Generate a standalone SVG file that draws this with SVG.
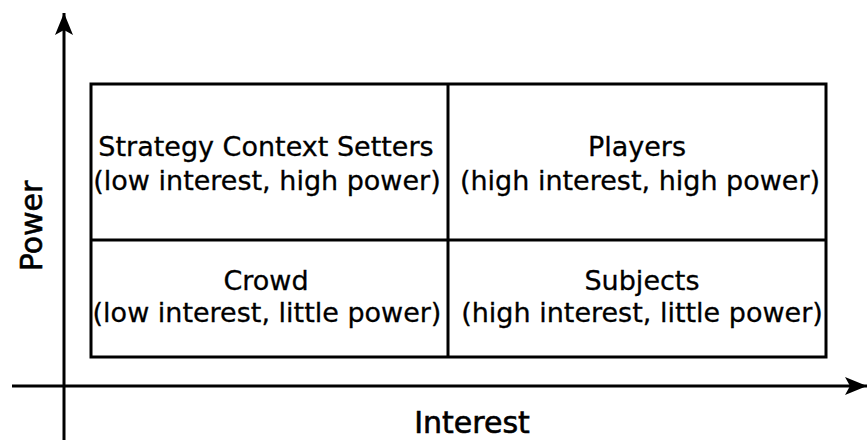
<svg xmlns="http://www.w3.org/2000/svg" width="867" height="446" viewBox="0 0 867 446">
<style>
.q{font-family:"DejaVu Sans","Noto Sans",sans-serif;font-size:27px;fill:#000;text-anchor:middle;stroke:#000;stroke-width:0.3}
.ax{font-family:"DejaVu Sans","Noto Sans",sans-serif;font-size:30px;fill:#000;text-anchor:middle;stroke:#000;stroke-width:0.6}
.ln{stroke:#000;stroke-width:3;fill:none}
</style>
<defs>
<marker id="ah" markerWidth="22" markerHeight="18" refX="22" refY="9" orient="auto" markerUnits="userSpaceOnUse" viewBox="0 0 22 18">
<path d="M0,0 L22,9 L0,18 L5,9 Z" fill="#000"/>
</marker>
</defs>
<rect width="867" height="446" fill="#fff"/>
<g id="connectors">
<line class="ln" x1="64" y1="440" x2="64" y2="13" marker-end="url(#ah)"/>
<line class="ln" x1="12" y1="386" x2="867" y2="386" marker-end="url(#ah)"/>
</g>
<g id="grid">
<rect class="ln" x="91" y="84" width="735" height="273"/>
<line class="ln" x1="448" y1="84" x2="448" y2="357"/>
<line class="ln" x1="91" y1="240" x2="826" y2="240"/>
</g>
<g id="q-context-setters">
<text class="q" x="266" y="156">Strategy Context Setters</text>
<text class="q" x="267" y="190">(low interest, high power)</text>
</g>
<g id="q-players">
<text class="q" x="637" y="156">Players</text>
<text class="q" x="640" y="190">(high interest, high power)</text>
</g>
<g id="q-crowd">
<text class="q" x="266" y="290">Crowd</text>
<text class="q" x="267" y="322">(low interest, little power)</text>
</g>
<g id="q-subjects">
<text class="q" x="642" y="290">Subjects</text>
<text class="q" x="642" y="322">(high interest, little power)</text>
</g>
<g id="labels">
<text class="ax" x="472" y="433">Interest</text>
<text class="ax" font-size="31" transform="translate(42,226) rotate(-90)">Power</text>
</g>
</svg>
